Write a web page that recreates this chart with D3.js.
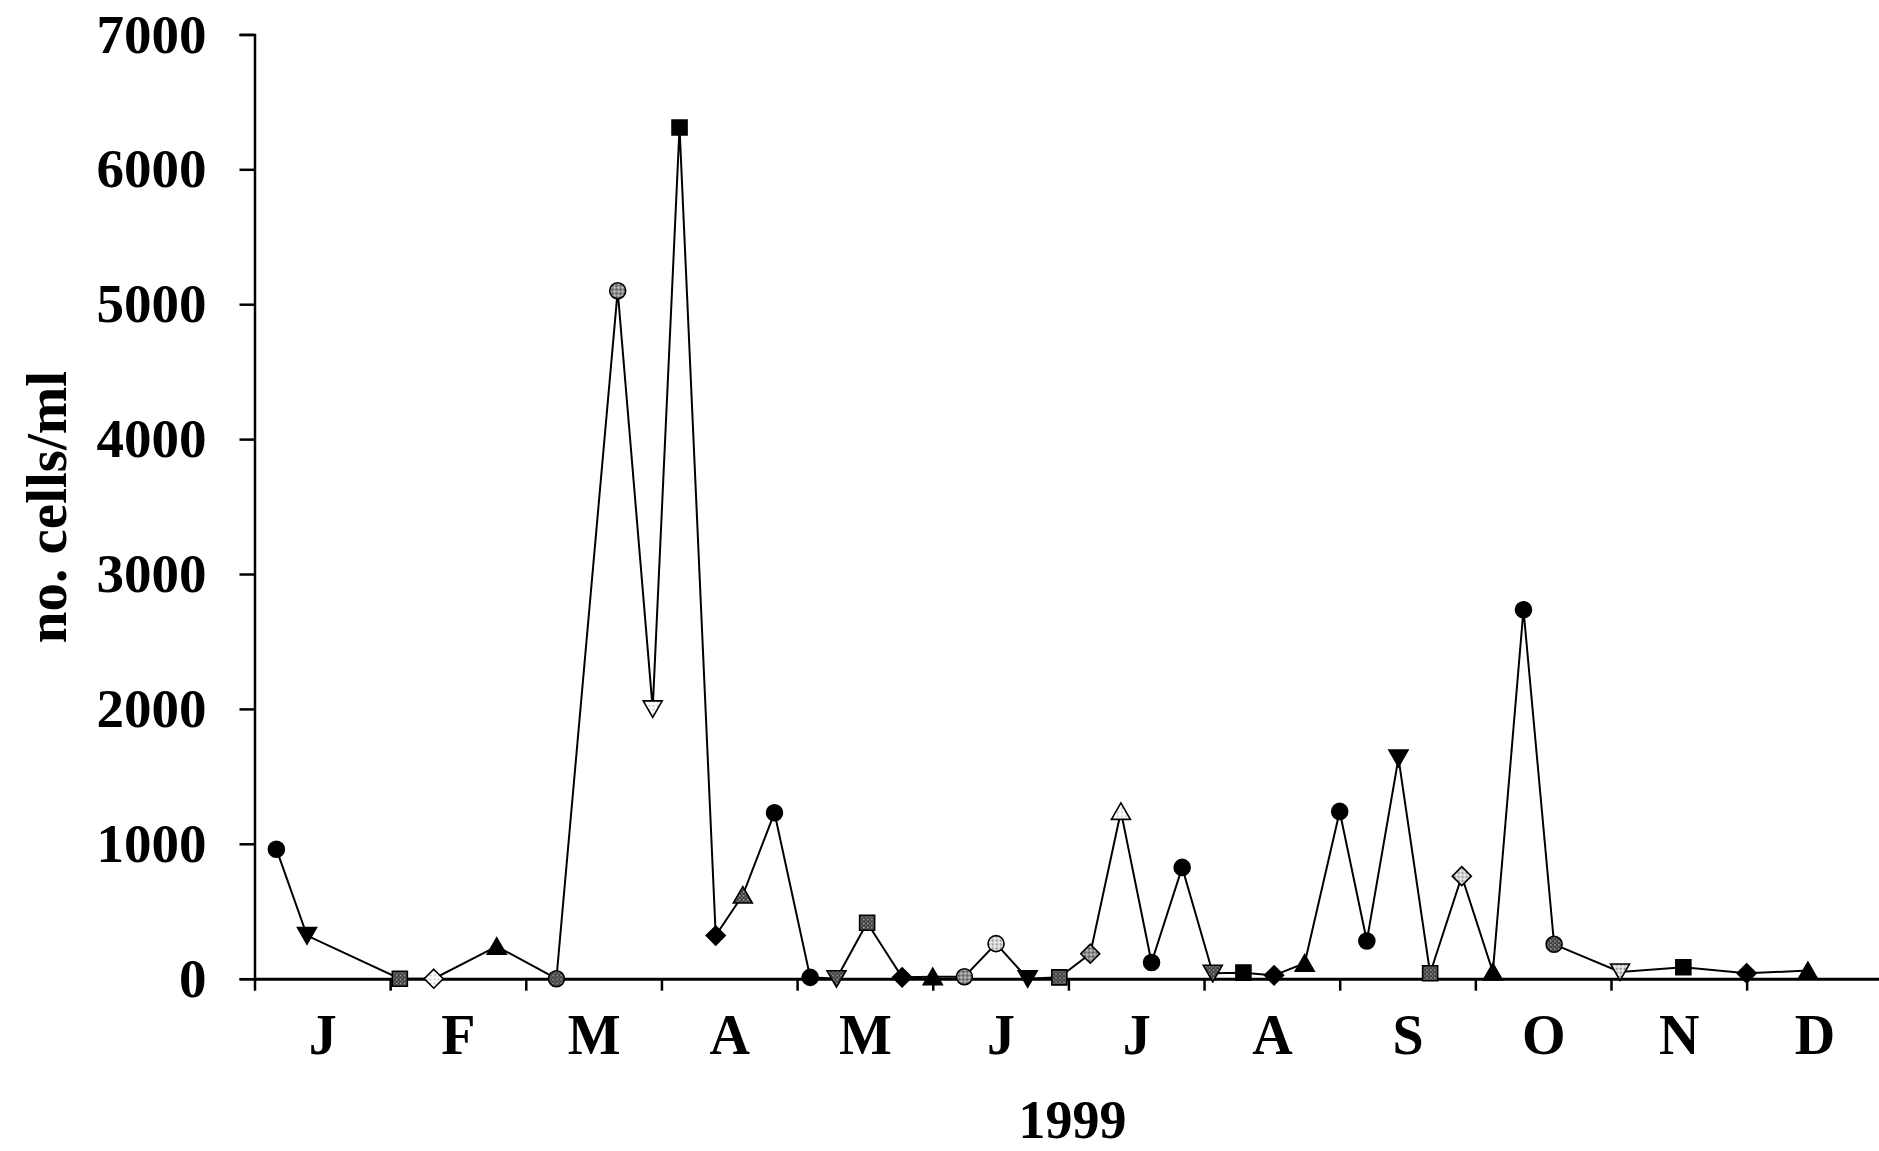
<!DOCTYPE html>
<html>
<head>
<meta charset="utf-8">
<script src="https://cdn.jsdelivr.net/npm/d3@7/dist/d3.min.js"></script>
<style>
  html, body { margin: 0; padding: 0; background: #fff; }
  svg { display: block; }
  text { font-family: "Liberation Serif", "Times New Roman", serif; font-weight: bold; fill: #000; }
</style>
</head>
<body>
<svg id="chart" width="1879" height="1151"></svg>
<script>
// ---------- data ----------
const monthLabels = ["J","F","M","A","M","J","J","A","S","O","N","D"];
const yTickValues = [0, 1000, 2000, 3000, 4000, 5000, 6000, 7000];
const yearLabel = "1999";
const yAxisTitle = "no. cells/ml";

const sampleDates = [
  "1999-01-06","1999-01-13","1999-02-03","1999-02-10","1999-02-23",
  "1999-03-08","1999-03-22","1999-03-30","1999-04-05","1999-04-13",
  "1999-04-19","1999-04-26","1999-05-04","1999-05-10","1999-05-17",
  "1999-05-25","1999-06-01","1999-06-08","1999-06-15","1999-06-22",
  "1999-06-29","1999-07-06","1999-07-13","1999-07-20","1999-07-27",
  "1999-08-03","1999-08-10","1999-08-17","1999-08-24","1999-09-01",
  "1999-09-07","1999-09-14","1999-09-21","1999-09-28","1999-10-05",
  "1999-10-12","1999-10-19","1999-11-03","1999-11-17","1999-12-01",
  "1999-12-15"
];
const cellsPerMl = [
  960, 320, 0, 0, 240,
  0, 5100, 2000, 6310, 320,
  620, 1230, 10, 0, 415,
  10, 15, 15, 260, 0,
  10, 185, 1240, 120, 825,
  40, 45, 25, 115, 1240,
  280, 1635, 40, 760, 50,
  2735, 255, 50, 85, 40,
  60
];

// ---------- styles (marker look per sample) ----------
const shapeCycle = ["circle", "circle", "triDown", "square", "diamond", "triUp"];
const markerFillCodes = "kkdwkdmwkkdkkddkkmlkdmwkkdkkkkkkdlkkdlkkk";

// ---------- layout ----------
const svg = d3.select("#chart");
const W = 1879, H = 1151;
svg.append("rect").attr("width", W).attr("height", H).attr("fill", "#fff");

const parse = d3.timeParse("%Y-%m-%d");
function monthPosition(s) {
  const d = parse(s);
  const m = d.getMonth();
  const days = new Date(d.getFullYear(), m + 1, 0).getDate();
  return m + (d.getDate() - 1) / days;
}

const x = d3.scaleLinear().domain([0, 12]).range([254.5, 1882.3]);
const y = d3.scaleLinear().domain([0, 7000]).range([978.7, 34.4]);

// patterns
const defs = svg.append("defs");
function makePattern(id, base, dot, alt) {
  const p = defs.append("pattern").attr("id", id)
    .attr("patternUnits", "userSpaceOnUse").attr("width", 4).attr("height", 4);
  p.append("rect").attr("width", 4).attr("height", 4).attr("fill", base);
  p.append("rect").attr("x", 0).attr("y", 0).attr("width", 1.5).attr("height", 1.5).attr("fill", dot);
  p.append("rect").attr("x", 2).attr("y", 2).attr("width", 1.5).attr("height", 1.5).attr("fill", alt || dot);
}
makePattern("pd", "#3a3a3a", "#bdbdbd", "#8a8a8a");
makePattern("pm", "#8c8c8c", "#e0e0e0", "#404040");
makePattern("pl", "#d4d4d4", "#8a8a8a", "#ffffff");
makePattern("pw", "#ffffff", "#b0b0b0", "#ffffff");
const fillFor = { k: "#000", d: "url(#pd)", m: "url(#pm)", l: "url(#pl)", w: "url(#pw)" };

// ---------- y axis ----------
const yAxis = svg.append("g")
  .attr("transform", `translate(${x(0)},0)`)
  .call(d3.axisLeft(y).tickValues(yTickValues).tickSize(15).tickPadding(33).tickFormat(d3.format("d")));
yAxis.select(".domain").attr("stroke", "#000").attr("stroke-width", 2.5);
yAxis.selectAll(".tick line").attr("stroke", "#000").attr("stroke-width", 2.5);
yAxis.selectAll(".tick text")
  .style("font-family", '"Liberation Serif", "Times New Roman", serif')
  .style("font-weight", "bold").style("font-size", "55px").attr("fill", "#000");

// ---------- x axis (month boundaries) ----------
const xAxis = svg.append("g")
  .attr("transform", `translate(0,${y(0)})`)
  .call(d3.axisBottom(x).tickValues(d3.range(0, 12)).tickSize(12).tickSizeOuter(0).tickFormat(""));
xAxis.select(".domain").attr("stroke", "#000").attr("stroke-width", 3);
xAxis.selectAll(".tick line").attr("stroke", "#000").attr("stroke-width", 2.5);

// month labels centred between boundaries
const xLab = svg.append("g")
  .attr("transform", `translate(0,${y(0)})`)
  .call(d3.axisBottom(x).tickValues(d3.range(0, 12).map(i => i + 0.5)).tickSize(0)
        .tickFormat((d, i) => monthLabels[i]));
xLab.select(".domain").remove();
xLab.selectAll(".tick text")
  .attr("y", 75).attr("dy", 0)
  .style("font-family", '"Liberation Serif", "Times New Roman", serif')
  .style("font-weight", "bold").style("font-size", "56px").attr("fill", "#000");

// year label
svg.append("text")
  .attr("x", (x(0) + x(12)) / 2 + 4).attr("y", 1138)
  .attr("text-anchor", "middle").style("font-size", "54px")
  .text(yearLabel);

// y title
svg.append("text")
  .attr("transform", "translate(66,507) rotate(-90)")
  .attr("text-anchor", "middle").style("font-size", "57px")
  .text(yAxisTitle);

// ---------- series ----------
const points = sampleDates.map((s, i) => ({
  xv: monthPosition(s), yv: cellsPerMl[i],
  shape: shapeCycle[(i + 1) % 6], fill: fillFor[markerFillCodes[i]]
}));

svg.append("path")
  .datum(points)
  .attr("fill", "none").attr("stroke", "#000").attr("stroke-width", 2)
  .attr("d", d3.line().x(d => x(d.xv)).y(d => y(d.yv)));

function shapePath(shape) {
  switch (shape) {
    case "circle": return d3.symbol(d3.symbolCircle, Math.PI * 8 * 8)();
    case "square": return "M-7.5,-7.5H7.5V7.5H-7.5Z";
    case "diamond": return "M0,-9.5L9.5,0L0,9.5L-9.5,0Z";
    case "triUp": return "M0,-8.5L9.5,8L-9.5,8Z";
    case "triDown": return "M0,8.5L9.5,-8L-9.5,-8Z";
  }
}

svg.append("g").selectAll("path")
  .data(points).join("path")
  .attr("transform", d => `translate(${x(d.xv)},${y(d.yv)})`)
  .attr("d", d => shapePath(d.shape))
  .attr("fill", d => d.fill)
  .attr("stroke", "#000").attr("stroke-width", 1.6);
</script>
</body>
</html>
